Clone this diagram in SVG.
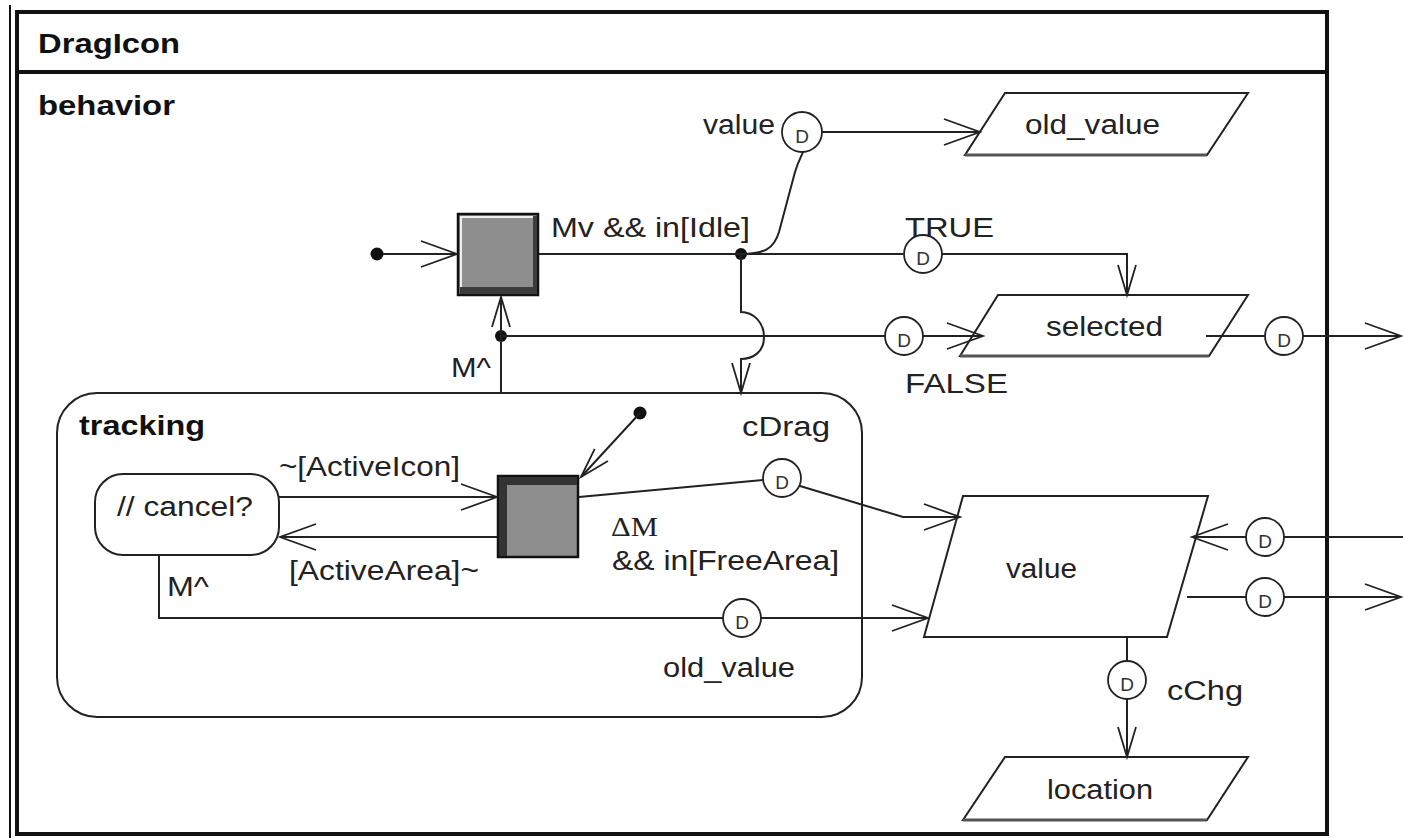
<svg xmlns="http://www.w3.org/2000/svg" width="1403" height="838" viewBox="0 0 1403 838">
<style>
.t{font-family:"Liberation Sans",Arial,sans-serif;font-size:27px;fill:#222}
.b{font-family:"Liberation Sans",Arial,sans-serif;font-size:27px;font-weight:bold;fill:#111}
.s{font-family:"Liberation Serif","Times New Roman",serif;font-size:27px;fill:#222}
.d{font-family:"Liberation Sans",Arial,sans-serif;font-size:19px;fill:#333;text-anchor:middle}
.ln{fill:none;stroke:#222;stroke-width:2}
.dc{fill:#fff;stroke:#222;stroke-width:1.8}
.pg{fill:#fff;stroke:#222;stroke-width:2}
</style>
<defs>
<marker id="arr" markerUnits="userSpaceOnUse" markerWidth="38" markerHeight="28" viewBox="0 0 38 28" refX="37" refY="14" orient="auto" overflow="visible">
<path d="M1,1 L37,14 L1,27" fill="none" stroke="#222" stroke-width="1.8"/>
</marker>
<marker id="arrs" markerUnits="userSpaceOnUse" markerWidth="32" markerHeight="20" viewBox="0 0 32 20" refX="31" refY="10" orient="auto" overflow="visible">
<path d="M1,1 L31,10 L1,19" fill="none" stroke="#222" stroke-width="1.8"/>
</marker>
</defs>
<rect width="1403" height="838" fill="#fff"/>

<g id="frame">
<line x1="10" y1="5" x2="10" y2="838" stroke="#111" stroke-width="2"/>
<rect x="17" y="12" width="1310" height="822" fill="none" stroke="#111" stroke-width="4"/>
<line x1="17" y1="72" x2="1327" y2="72" stroke="#111" stroke-width="4"/>
<text class="b" x="38" y="53" textLength="142" lengthAdjust="spacingAndGlyphs">DragIcon</text>
<text class="b" x="38" y="115" textLength="137" lengthAdjust="spacingAndGlyphs">behavior</text>
</g>

<g id="tracking">
<rect x="57" y="393" width="805" height="324" rx="40" ry="40" fill="none" stroke="#222" stroke-width="2"/>
<text class="b" x="79" y="435" textLength="126" lengthAdjust="spacingAndGlyphs">tracking</text>
</g>

<g id="state-idle">
<rect x="458" y="214" width="80" height="81" fill="#8e8e8e" stroke="#111" stroke-width="2.5"/>
<rect x="533" y="216" width="4" height="78" fill="#3c3c3c"/>
<rect x="460" y="287" width="77" height="7" fill="#3c3c3c"/>
<path d="M461,287 V217 H533" fill="none" stroke="#eee" stroke-width="2"/>
</g>

<g id="state-drag">
<rect x="498" y="476" width="80" height="81" fill="#8e8e8e" stroke="#111" stroke-width="2.5"/>
<rect x="499" y="477" width="78" height="8" fill="#333"/>
<rect x="499" y="477" width="8" height="79" fill="#333"/>
</g>

<g id="state-cancel">
<rect x="95" y="474" width="184" height="81" rx="28" ry="28" fill="#fff" stroke="#222" stroke-width="2"/>
<text class="t" x="117" y="516" textLength="136" lengthAdjust="spacingAndGlyphs">// cancel?</text>
</g>

<g id="init1"><circle cx="377" cy="254" r="6.5" fill="#111"/></g>
<g id="init2"><circle cx="640" cy="413" r="6.5" fill="#111"/></g>
<g id="junction1"><circle cx="741" cy="254" r="6" fill="#111"/></g>
<g id="junction2"><circle cx="501" cy="336" r="6" fill="#111"/></g>

<g id="store-old-value">
<polygon class="pg" points="1005,93 1248,93 1207,155 965,155"/>
<line x1="965" y1="155" x2="1207" y2="155" stroke="#555" stroke-width="3"/>
<text class="t" x="1025" y="134" textLength="135" lengthAdjust="spacingAndGlyphs">old_value</text>
</g>
<g id="store-selected">
<polygon class="pg" points="998,295 1248,295 1209,356 960,356"/>
<line x1="960" y1="356" x2="1209" y2="356" stroke="#555" stroke-width="3"/>
<text class="t" x="1046" y="336" textLength="117" lengthAdjust="spacingAndGlyphs">selected</text>
</g>
<g id="store-value">
<polygon class="pg" points="963,496 1208,496 1167,637 924,637"/>
<text class="t" x="1006" y="578" textLength="71" lengthAdjust="spacingAndGlyphs">value</text>
</g>
<g id="store-location">
<polygon class="pg" points="1005,757 1248,757 1207,820 963,820"/>
<line x1="963" y1="820" x2="1207" y2="820" stroke="#555" stroke-width="3"/>
<text class="t" x="1047" y="799" textLength="106" lengthAdjust="spacingAndGlyphs">location</text>
</g>

<g id="connectors">
<path class="ln" d="M383,254 H457" marker-end="url(#arr)"/>
<path class="ln" d="M539,254 H741"/>
<path class="ln" d="M741,254 H903"/>
<path class="ln" d="M942,254 H1127 V295" marker-end="url(#arrs)"/>
<path class="ln" d="M741,254 C764,254 774,249 779,232 L795,172 C798,162 801,157 803,152"/>
<path class="ln" d="M822,132 H980" marker-end="url(#arr)"/>
<path class="ln" d="M741,254 V312 C753,312 764,322 764,337 C764,352 753,359 741,359 V393" marker-end="url(#arrs)"/>
<path class="ln" d="M501,393 V297" marker-end="url(#arrs)"/>
<path class="ln" d="M501,336 H885"/>
<path class="ln" d="M923,336 H983" marker-end="url(#arr)"/>
<path class="ln" d="M1206,336 H1265"/>
<path class="ln" d="M1303,336 H1401" marker-end="url(#arr)"/>
<path class="ln" d="M640,413 L581,477" marker-end="url(#arrs)"/>
<path class="ln" d="M279,497 H497" marker-end="url(#arr)"/>
<path class="ln" d="M497,537 H280" marker-end="url(#arr)"/>
<path class="ln" d="M159,555 V618 H723"/>
<path class="ln" d="M761,618 H928" marker-end="url(#arr)"/>
<path class="ln" d="M579,497 L763,480"/>
<path class="ln" d="M800,486 L903,517 H960" marker-end="url(#arr)"/>
<path class="ln" d="M1403,537 H1284"/>
<path class="ln" d="M1246,537 H1192" marker-end="url(#arr)"/>
<path class="ln" d="M1187,597 H1246"/>
<path class="ln" d="M1284,597 H1401" marker-end="url(#arr)"/>
<path class="ln" d="M1127,637 V661"/>
<path class="ln" d="M1127,699 V757" marker-end="url(#arrs)"/>

<g id="d-value"><circle class="dc" cx="802" cy="132" r="20"/><text class="d" x="802" y="143">D</text></g>
<g id="d-true"><circle class="dc" cx="923" cy="254" r="19"/><text class="d" x="923" y="265">D</text></g>
<g id="d-false"><circle class="dc" cx="904" cy="336" r="19"/><text class="d" x="904" y="347">D</text></g>
<g id="d-sel-out"><circle class="dc" cx="1284" cy="336" r="19"/><text class="d" x="1284" y="347">D</text></g>
<g id="d-cdrag"><circle class="dc" cx="782" cy="478" r="19"/><text class="d" x="782" y="489">D</text></g>
<g id="d-oldvalue"><circle class="dc" cx="742" cy="618" r="19"/><text class="d" x="742" y="629">D</text></g>
<g id="d-in"><circle class="dc" cx="1265" cy="537" r="19"/><text class="d" x="1265" y="548">D</text></g>
<g id="d-out"><circle class="dc" cx="1265" cy="597" r="19"/><text class="d" x="1265" y="608">D</text></g>
<g id="d-cchg"><circle class="dc" cx="1127" cy="680" r="19"/><text class="d" x="1127" y="691">D</text></g>

<text class="t" x="703" y="134" textLength="72" lengthAdjust="spacingAndGlyphs">value</text>
<text class="t" x="551" y="237" textLength="199" lengthAdjust="spacingAndGlyphs">Mv &amp;&amp; in[Idle]</text>
<text class="t" x="905" y="237" textLength="89" lengthAdjust="spacingAndGlyphs">TRUE</text>
<text class="t" x="905" y="393" textLength="103" lengthAdjust="spacingAndGlyphs">FALSE</text>
<text class="t" x="451" y="377" textLength="40" lengthAdjust="spacingAndGlyphs">M^</text>
<text class="t" x="742" y="436" textLength="88" lengthAdjust="spacingAndGlyphs">cDrag</text>
<text class="t" x="279" y="476" textLength="181" lengthAdjust="spacingAndGlyphs">~[ActiveIcon]</text>
<text class="t" x="289" y="580" textLength="190" lengthAdjust="spacingAndGlyphs">[ActiveArea]~</text>
<text class="s" x="611" y="536" textLength="47" lengthAdjust="spacingAndGlyphs">ΔM</text>
<text class="t" x="612" y="570" textLength="227" lengthAdjust="spacingAndGlyphs">&amp;&amp; in[FreeArea]</text>
<text class="t" x="167" y="596" textLength="42" lengthAdjust="spacingAndGlyphs">M^</text>
<text class="t" x="663" y="677" textLength="132" lengthAdjust="spacingAndGlyphs">old_value</text>
<text class="t" x="1167" y="700" textLength="76" lengthAdjust="spacingAndGlyphs">cChg</text>
</g>
</svg>
